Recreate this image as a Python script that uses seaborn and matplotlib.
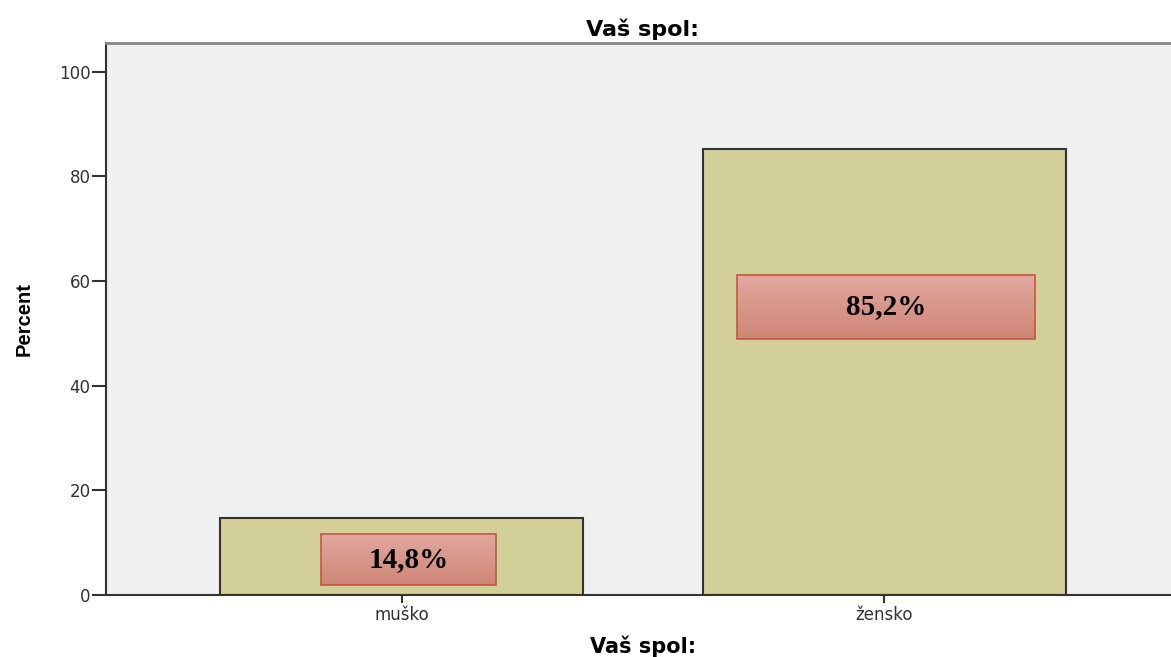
import numpy as np
import pandas as pd
import seaborn as sns
import matplotlib.pyplot as plt

# data
categories = ["muško", "žensko"]
percent = [14.8, 85.2]
value_labels = ["14,8%", "85,2%"]

# annotation box extents (x0, x1, y0, y1) in data units
label_boxes = [(-0.166, 0.196, 1.9, 11.7), (0.695, 1.312, 48.9, 61.2)]

df = pd.DataFrame({"spol": categories, "Percent": percent})

sns.set_style("white")
plt.rcParams["font.family"] = ["DejaVu Sans"]
plt.rcParams["text.color"] = "black"
plt.rcParams["axes.labelcolor"] = "black"

fig = plt.figure(figsize=(11.71, 6.57), dpi=100)
ax = fig.add_axes([106 / 1171, 62 / 657, 1074 / 1171, 552 / 657])
ax.set_facecolor("#f0f0f0")

sns.barplot(data=df, x="spol", y="Percent", color="#d3cf98", width=0.75,
            edgecolor="#333333", linewidth=1.5, saturation=1, ax=ax)

# gradient label boxes
grad = np.linspace(0, 1, 64).reshape(-1, 1)
cmap = sns.blend_palette(["#e2a8a0", "#cf8676"], as_cmap=True)
for (x0, x1, y0, y1), txt in zip(label_boxes, value_labels):
    ax.imshow(grad, extent=(x0, x1, y0, y1), origin="upper", cmap=cmap,
              aspect="auto", zorder=3)
    ax.add_patch(plt.Rectangle((x0, y0), x1 - x0, y1 - y0, fill=False,
                               edgecolor="#c05a40", linewidth=1.2, zorder=4))
    ax.text((x0 + x1) / 2, (y0 + y1) / 2, txt, ha="center", va="center",
            fontsize=21, fontweight="bold", family="Liberation Serif",
            color="black", zorder=5)

ax.set_xlim(-0.612, 1.612)
ax.set_ylim(0, 105.5)
ax.set_yticks([0, 20, 40, 60, 80, 100])

for side in ["left", "bottom"]:
    ax.spines[side].set_color("#333333")
    ax.spines[side].set_linewidth(1.5)
ax.spines["top"].set_color("#888888")
ax.spines["top"].set_linewidth(2)
ax.spines["right"].set_visible(False)

ax.tick_params(axis="y", length=10, width=1.5, color="#333333",
               labelsize=12, labelcolor="#333333", pad=1, left=True)
ax.tick_params(axis="x", length=6, width=1.5, color="#333333",
               labelsize=12, labelcolor="#333333", pad=2, bottom=True)

ax.set_title("Vaš spol:", fontsize=16, fontweight="bold", pad=5, color="black")
ax.set_xlabel("Vaš spol:", fontsize=15, fontweight="bold", labelpad=8)
ax.set_ylabel("Percent", fontsize=14.5, fontweight="bold", labelpad=18,
              family="Liberation Sans")

fig.savefig("out.png", dpi=100)
